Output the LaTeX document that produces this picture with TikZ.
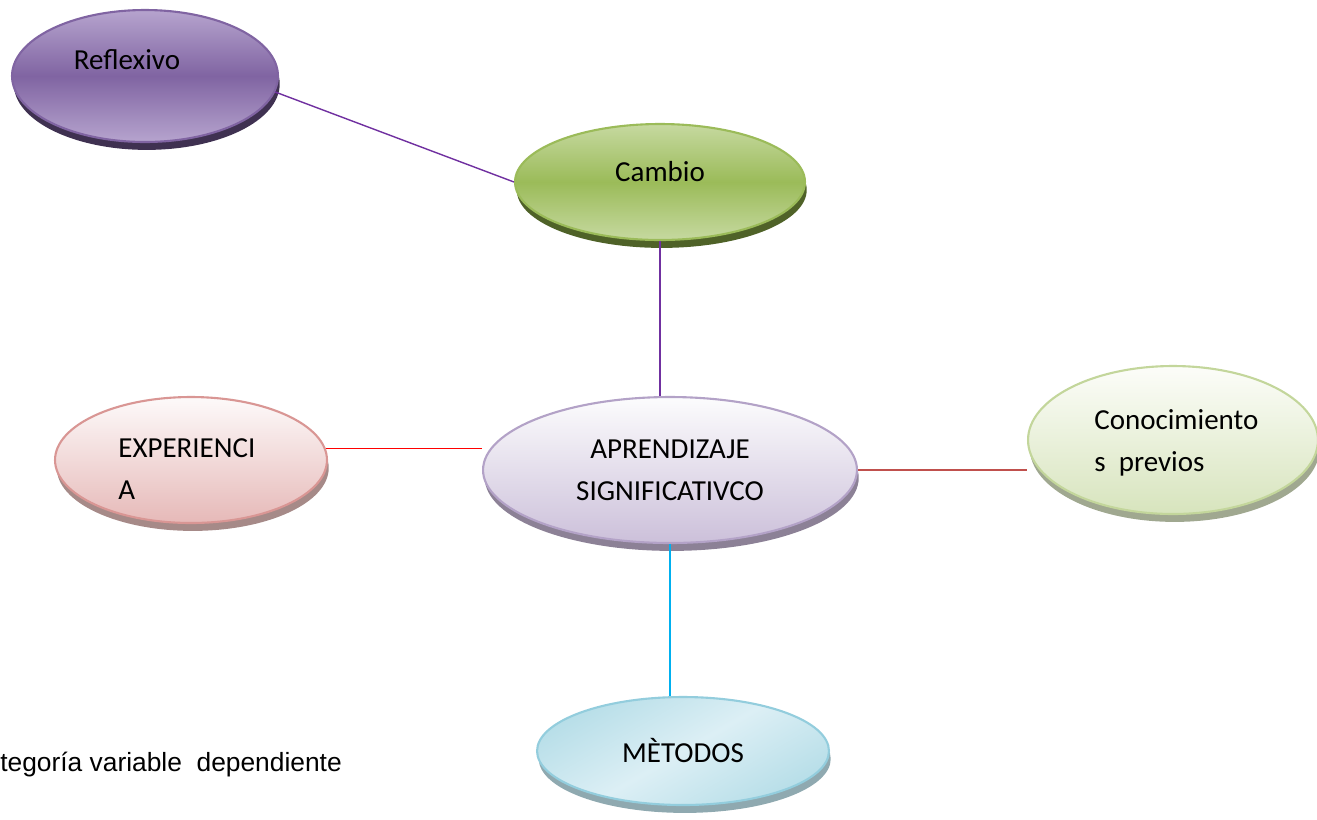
\documentclass[tikz,border=0pt]{standalone}
\usepackage{fontspec}
\setmainfont{Carlito}
\newfontfamily\capfont{Liberation Sans}
\usetikzlibrary{shapes.geometric,shadows}
\definecolor{violeta}{HTML}{7030A0}
\definecolor{rojo}{HTML}{FF0000}
\definecolor{rojoosc}{HTML}{C0504D}
\definecolor{celeste}{HTML}{00B0F0}
\definecolor{morado}{HTML}{8064A2}
\definecolor{moradoclaro}{HTML}{B6A4CE}
\definecolor{moradosombra}{HTML}{3F3151}
\definecolor{verde}{HTML}{9BBB59}
\definecolor{verdeclaro}{HTML}{C6D9A0}
\definecolor{verdesombra}{HTML}{4F6228}
\definecolor{lilaborde}{HTML}{B3A2C7}
\definecolor{lilaarriba}{HTML}{FCFCFD}
\definecolor{lilaabajo}{HTML}{CCC0DA}
\definecolor{lilasombra}{HTML}{8C8196}
\definecolor{rosaborde}{HTML}{D99694}
\definecolor{rosaarriba}{HTML}{FDFAFA}
\definecolor{rosaabajo}{HTML}{E6B9B8}
\definecolor{rosasombra}{HTML}{A68A88}
\definecolor{pistachoborde}{HTML}{C3D69B}
\definecolor{pistachoarriba}{HTML}{FCFDF9}
\definecolor{pistachoabajo}{HTML}{D7E4BD}
\definecolor{pistachosombra}{HTML}{A0A890}
\definecolor{azulborde}{HTML}{93CDDD}
\definecolor{azulclaro}{HTML}{DCEFF5}
\definecolor{azul}{HTML}{B7DEE8}
\definecolor{azulsombra}{HTML}{8FA9B0}
\tikzset{
	burbuja/.style={ellipse,inner sep=0pt,line width=1.2pt},
	texto/.style={inner sep=0pt,font=\fontsize{16.5}{24}\selectfont},
	sombra/.style={drop shadow={shadow xshift=1pt,shadow yshift=-4.5pt,opacity=1,fill=#1}}
}
\begin{document}
\begin{tikzpicture}[x=0.02cm,y=-0.02cm]
	\useasboundingbox (0,0) rectangle (1317,819);
	\node[burbuja,minimum width=5.32cm,minimum height=2.64cm,draw=morado,
		top color=moradoclaro,bottom color=moradoclaro,middle color=morado,sombra=moradosombra] (reflexivo) at (145,76) {};
	\node[burbuja,minimum width=5.8cm,minimum height=2.32cm,draw=verde,
		top color=verdeclaro,bottom color=verdeclaro,middle color=verde,sombra=verdesombra] (cambio) at (660,182) {};
	\node[burbuja,minimum width=7.48cm,minimum height=2.92cm,draw=lilaborde,
		top color=lilaarriba,bottom color=lilaabajo,sombra=lilasombra] (aprendizaje) at (670,470) {};
	\node[burbuja,minimum width=5.44cm,minimum height=2.52cm,draw=rosaborde,
		top color=rosaarriba,bottom color=rosaabajo,sombra=rosasombra] (experiencia) at (191,460) {};
	\node[burbuja,minimum width=5.8cm,minimum height=2.96cm,draw=pistachoborde,
		top color=pistachoarriba,bottom color=pistachoabajo,sombra=pistachosombra] (conocimiento) at (1173,440) {};
	\node[burbuja,minimum width=5.84cm,minimum height=2.16cm,draw=azulborde,
		left color=azul,right color=azul,middle color=azulclaro,shading angle=30,sombra=azulsombra] (metodos) at (683,751) {};
	\draw[violeta,thick] (reflexivo.-7) -- (cambio.180);
	\draw[violeta,thick] (cambio.south) -- (cambio.south |- aprendizaje.north);
	\draw[rojo,thick] (experiencia.5) -- (experiencia.5 -| aprendizaje.west);
	\draw[rojoosc,thick] (aprendizaje.east) -- (aprendizaje.east -| conocimiento.west);
	\draw[celeste,thick] (aprendizaje.south) -- (aprendizaje.south |- metodos.north);
	\node[texto] (reflexivo-t) at (127,60) {Reflexivo};
	\node[texto] (cambio-t) at (660,172) {Cambio};
	\node[texto,align=center] (aprendizaje-t) at (670,470) {APRENDIZAJE\\SIGNIFICATIVCO};
	\node[texto,align=left,anchor=west] (experiencia-t) at (118,469) {EXPERIENCI\\A};
	\node[texto,align=left,anchor=west] (conocimiento-t) at (1094,443) {Conocimiento\\s\ \ previos};
	\node[texto] (metodos-t) at (683,750) {MÈTODOS};
	\node[inner sep=0pt,anchor=west,font=\capfont\fontsize{15}{18}\selectfont] (categoria) at (0,765) {tegoría variable\ \ dependiente};
\end{tikzpicture}
\end{document}
